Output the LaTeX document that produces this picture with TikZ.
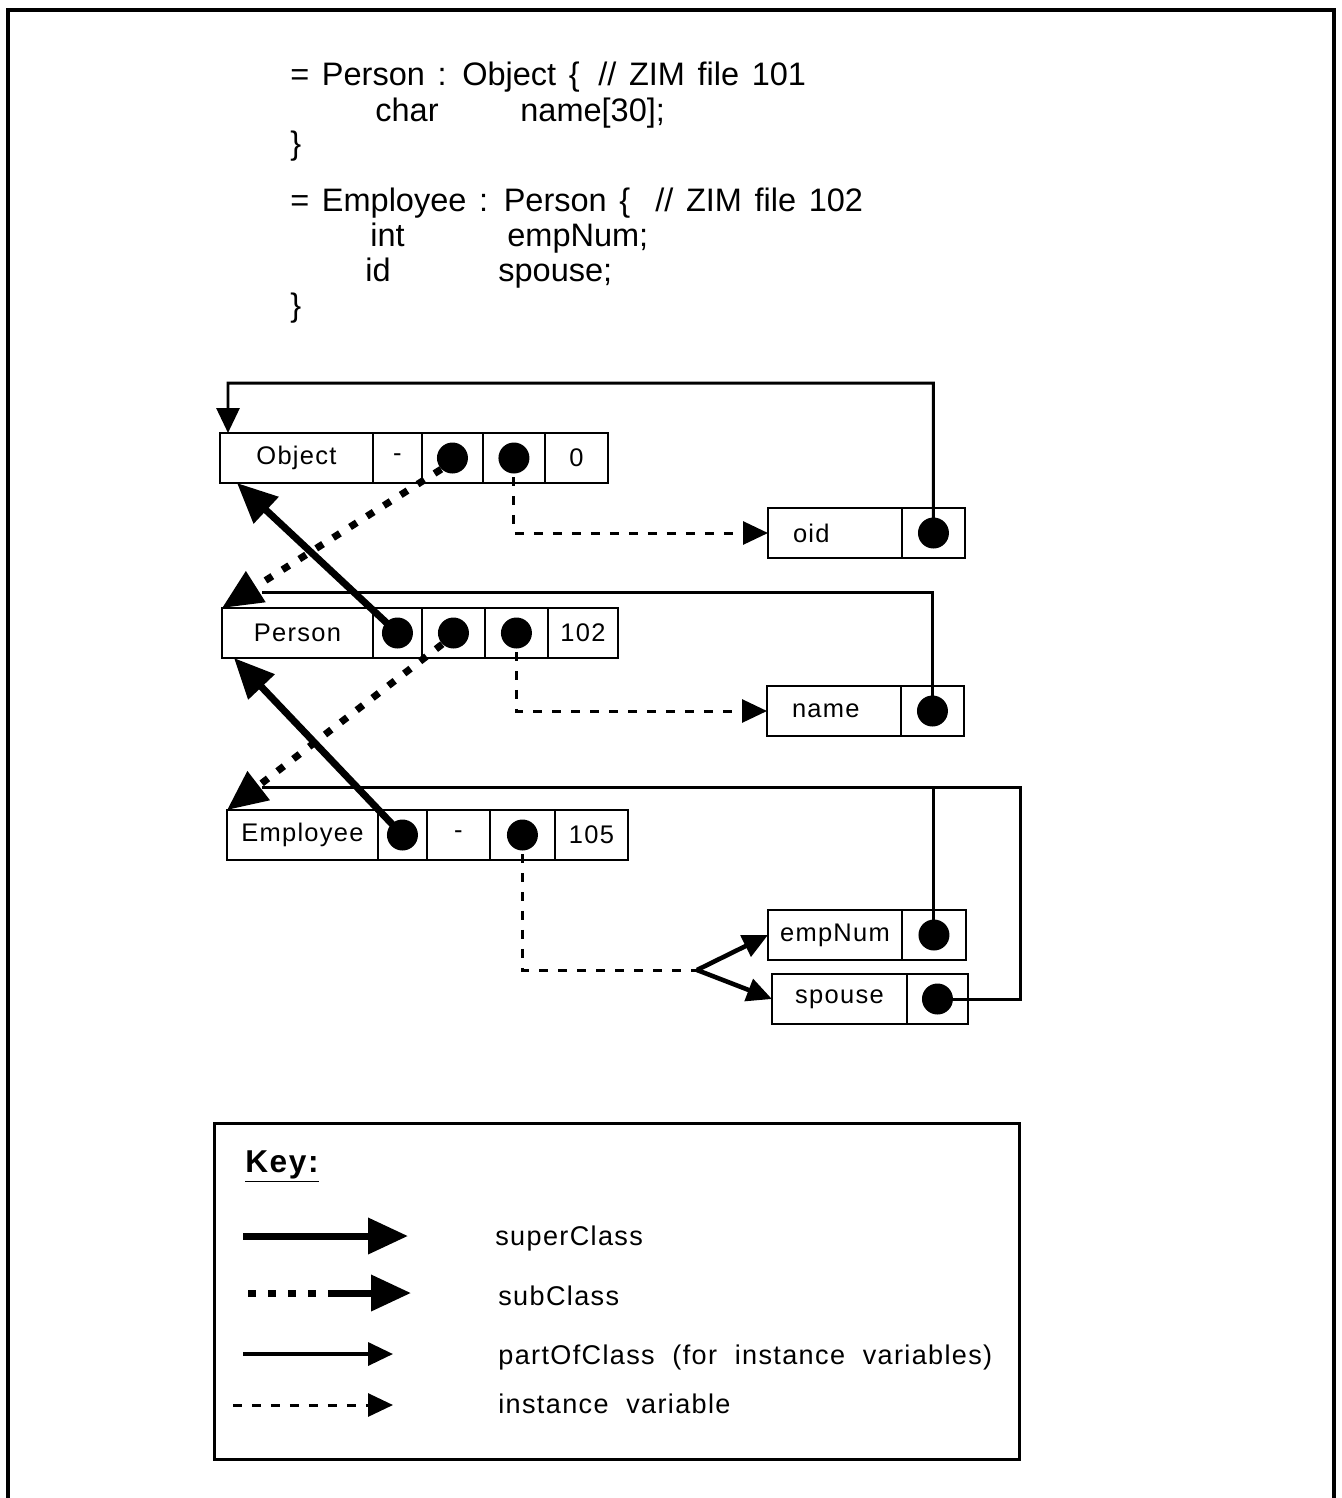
\documentclass[tikz,border=0pt]{standalone}
\usepackage{fontspec}
\setmainfont{Liberation Sans}[LetterSpace=5]
\newfontfamily\codefont{Liberation Sans}[WordSpace=1.4]
\usetikzlibrary{arrows.meta, positioning, calc}

\begin{document}
\begin{tikzpicture}[
  x=0.02cm, y=-0.02cm,
  font=\fontsize{14.5}{17}\selectfont,
  >=Stealth,
  code/.style={anchor=base west, inner sep=0pt, font=\codefont\fontsize{18.5}{22}\selectfont},
  cell/.style={
    draw,
    line width=1.4pt,
    anchor=west,
    minimum height=1cm,
    inner sep=0pt,
    outer sep=0pt
  },
  varname/.style={cell, inner xsep=0.5cm, text width=1.68cm, align=left},
  dot/.style={circle, fill=black, minimum size=0.62cm, inner sep=0pt},
  superc/.style={line width=4pt, -{Triangle[length=0.8cm, width=0.7cm]}},
  subline/.style={line width=4pt, dash pattern=on 0.16cm off 0.24cm},
  subc/.style={subline, -{Triangle[length=0.8cm, width=0.7cm]}},
  partline/.style={line width=1.7pt},
  partof/.style={partline, -{Triangle[length=0.5cm, width=0.46cm]}},
  varline/.style={line width=1.7pt, dash pattern=on 0.18cm off 0.2cm},
  instvar/.style={varline, -{Triangle[length=0.5cm, width=0.46cm]}},
  fork/.style={line width=2.6pt, -{Triangle[length=0.5cm, width=0.46cm]}},
  legtext/.style={anchor=base west, inner sep=0pt, font=\fontsize{15.4}{18}\selectfont}
]
\useasboundingbox (0,0) rectangle (1342,1498);

% frame
\draw[line width=2.4pt] (8,1498) -- (8,10) -- (1334,10) -- (1334,1498);

% class definitions
\node[code] (c1a) at (290,85) {= Person : Object \{};
\node[code] (c1b) at (598,85) {// ZIM file 101};
\node[code] (c2a) at (375,121) {char};
\node[code] (c2b) at (520,121) {name[30];};
\node[code] (c3) at (290,154) {\}};
\node[code] (c4a) at (290,211) {= Employee : Person \{};
\node[code] (c4b) at (655,211) {// ZIM file 102};
\node[code] (c5a) at (370,246) {int};
\node[code] (c5b) at (507,246) {empNum;};
\node[code] (c6a) at (365,281) {id};
\node[code] (c6b) at (498,281) {spouse;};
\node[code] (c7) at (290,316) {\}};

% class records
\node[cell, minimum width=3.06cm] (objname) at (220,458) {Object};
\node[cell, minimum width=0.98cm, right=0pt of objname] (objsup) {-};
\node[cell, minimum width=1.22cm, right=0pt of objsup] (objsubc) {};
\node[cell, minimum width=1.24cm, right=0pt of objsubc] (objvarc) {};
\node[cell, minimum width=1.26cm, right=0pt of objvarc] (objnum) {0};
\node[dot] (objsubdot) at (objsubc) {};
\node[dot] (objvardot) at (objvarc) {};

\node[cell, minimum width=3.02cm] (pername) at (222,633) {Person};
\node[cell, minimum width=0.98cm, right=0pt of pername] (persupc) {};
\node[cell, minimum width=1.26cm, right=0pt of persupc] (persubc) {};
\node[cell, minimum width=1.26cm, right=0pt of persubc] (pervarc) {};
\node[cell, minimum width=1.40cm, right=0pt of pervarc] (pernum) {102};
\node[dot] (persupdot) at (persupc) {};
\node[dot] (persubdot) at (persubc) {};
\node[dot] (pervardot) at (pervarc) {};

\node[cell, minimum width=3.02cm] (empname) at (227,835) {Employee};
\node[cell, minimum width=0.98cm, right=0pt of empname] (empsupc) {};
\node[cell, minimum width=1.26cm, right=0pt of empsupc] (empsub) {-};
\node[cell, minimum width=1.30cm, right=0pt of empsub] (empvarc) {};
\node[cell, minimum width=1.46cm, right=0pt of empvarc] (empnum) {105};
\node[dot] (empsupdot) at (empsupc) {};
\node[dot] (empvardot) at (empvarc) {};

% instance variables
\node[varname] (oidname) at (768,533) {oid};
\node[cell, minimum width=1.26cm, right=0pt of oidname] (oidc) {};
\node[dot] (oiddot) at (oidc) {};
\node[varname] (namename) at (767,711) {name};
\node[cell, minimum width=1.26cm, right=0pt of namename] (namec) {};
\node[dot] (namedot) at (namec) {};
\node[cell, minimum width=2.68cm] (enumname) at (768,935) {empNum};
\node[cell, minimum width=1.28cm, right=0pt of enumname] (enumc) {};
\node[dot] (enumdot) at (enumc) {};
\node[cell, minimum width=2.70cm] (spname) at (772,999) {spouse};
\node[cell, minimum width=1.22cm, right=0pt of spname] (spc) {};
\node[dot] (spdot) at (spc) {};

\coordinate (objloop) at (228,383);
\coordinate (perloop) at (262,592);
\coordinate (emploop) at (262,787);
\coordinate (sploop) at (1020,787);
\coordinate (split) at (697,970);

% partOfClass
\draw[partof] (oiddot.center) |- (objloop) -- ([xshift=0.16cm]objname.north west);
\draw[partline] (namedot.center) |- (perloop);
\draw[partline] (spdot.center) -| (sploop) -- (emploop);
\draw[partline] (enumdot.center) -- (enumdot.center |- sploop);

% instance variable
\draw[instvar] (objvardot.center) |- (oidname.west);
\draw[instvar] (pervardot.center) |- (namename.west);
\draw[varline] (empvardot.center) |- (split);
\draw[fork] (split) -- (enumname.west);
\draw[fork] (split) -- (spname.west);

% subClass / superClass
\draw[subc] (objsubdot.south west) -- (pername.north west);
\draw[subc] (persubdot.south west) -- (empname.north west);
\draw[superc] (persupdot.center) -- ([xshift=0.34cm]objname.south west);
\draw[superc] (empsupdot.center) -- ([xshift=0.24cm]pername.south west);

% key
\node[draw, line width=1.8pt, anchor=north west, minimum width=16.1cm,
  minimum height=6.72cm, inner sep=0pt] (keybox) at (213,1122) {};
\node[legtext, font=\bfseries\fontsize{18}{21}\selectfont] (keytitle) at (245,1172) {\underline{Key:}};

\coordinate (k1a) at (243,1236);
\coordinate (k1b) at (408,1236);
\coordinate (k2a) at (248,1293);
\coordinate (k2m) at (340,1293);
\coordinate (k2b) at (411,1293);
\coordinate (k3a) at (243,1354);
\coordinate (k3b) at (393,1354);
\coordinate (k4a) at (233,1405);
\coordinate (k4b) at (393,1405);

\draw[superc] (k1a) -- (k1b);
\draw[subline] (k2a) -- (k2m);
\draw[superc] ([xshift=-0.1cm]k2m) -- (k2b);
\draw[partof, line width=2pt] (k3a) -- (k3b);
\draw[instvar] (k4a) -- (k4b);

\node[legtext] (lsuper) at (495,1245) {superClass};
\node[legtext] (lsub) at (498,1305) {subClass};
\node[legtext] (lpart) at (498,1364) {partOfClass\ \ (for\ \ instance\ \ variables)};
\node[legtext] (linst) at (498,1413) {instance\ \ variable};

\end{tikzpicture}
\end{document}
